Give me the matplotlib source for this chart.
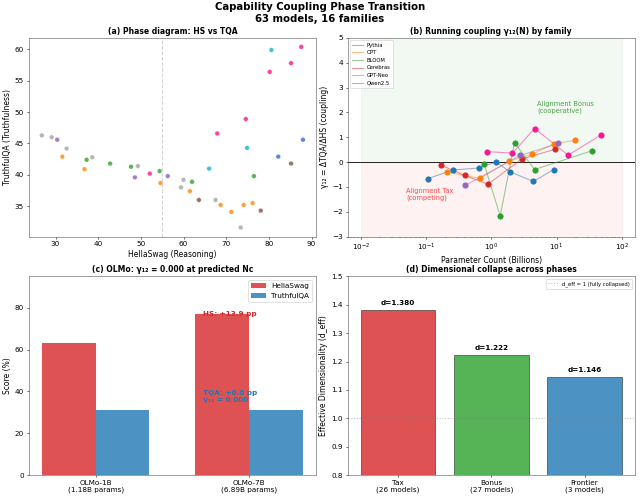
import matplotlib
matplotlib.use("Agg")
import matplotlib.pyplot as plt
import numpy as np

# (a) phase diagram: HellaSwag vs TruthfulQA, colored by family
hs_a = [26.8, 29.1, 30.4, 32.6, 31.6, 36.8, 37.3, 38.6, 42.8, 47.7,
        49.3, 48.6, 52.1, 54.4, 54.6, 56.3, 60.0, 59.4, 62.0, 61.5,
        63.6, 66.0, 67.5, 67.9, 68.7, 71.2, 73.4, 74.1, 74.6, 74.9,
        76.2, 76.5, 78.1, 80.2, 80.6, 82.2, 85.2, 85.2, 87.6, 88.0]
tqa_a = [46.3, 46.0, 45.6, 44.2, 42.9, 40.9, 42.4, 42.8, 41.8, 41.3,
         41.4, 39.6, 40.2, 40.6, 38.7, 39.8, 39.2, 38.0, 38.9, 37.4,
         36.0, 41.0, 36.0, 46.6, 35.2, 34.1, 31.6, 35.2, 48.9, 44.3,
         35.5, 39.8, 34.3, 56.4, 59.9, 42.9, 57.8, 41.8, 60.4, 45.6]
fam_a = ["gray", "gray", "purple", "gray", "orange", "orange", "green", "gray", "green", "green",
         "gray", "purple", "pink", "green", "orange", "purple", "gray", "gray", "green", "orange",
         "brown", "cyan", "gray", "pink", "orange", "orange", "gray", "orange", "pink", "cyan",
         "orange", "green", "brown", "pink", "cyan", "blue", "pink", "brown", "pink", "blue"]
fam_colors = {"gray": "#a8a8a8", "purple": "#9467bd", "orange": "#ff8c1a", "green": "#3aa83a",
              "pink": "#ff1f8f", "cyan": "#17b8d8", "brown": "#8c564b", "blue": "#3f6fdc"}
nc_hs = 55

# (b) running coupling per family
families = ["Pythia", "OPT", "BLOOM", "Cerebras", "GPT-Neo", "Qwen2.5"]
fam_line_colors = ["tab:blue", "tab:orange", "tab:green", "tab:red", "tab:purple", "#ff1493"]
params_b = [
    [0.106, 0.258, 0.64, 1.18, 1.97, 4.41, 9.1],
    [0.211, 0.67, 1.88, 4.26, 9.2, 19.5],
    [0.78, 1.37, 2.27, 4.62, 35.3],
    [0.169, 0.393, 0.89, 2.93, 9.33],
    [0.40, 2.8, 10.7],
    [0.87, 2.11, 4.62, 15.1, 47.9],
]
gamma_b = [
    [-0.67, -0.32, -0.24, 0.0, -0.40, -0.78, -0.30],
    [-0.40, -0.66, 0.04, 0.32, 0.74, 0.88],
    [-0.09, -2.17, 0.78, -0.30, 0.46],
    [-0.12, -0.54, -0.89, 0.12, 0.51],
    [-0.94, 0.27, 0.75],
    [0.42, 0.36, 1.35, 0.28, 1.09],
]

# (c) OLMo
olmo_models = ["OLMo-1B\n(1.18B params)", "OLMo-7B\n(6.89B params)"]
olmo_hs = [63.3, 77.2]
olmo_tqa = [31.0, 31.0]

# (d) dimensional collapse
phases = ["Tax\n(26 models)", "Bonus\n(27 models)", "Frontier\n(3 models)"]
d_eff = [1.380, 1.222, 1.146]
phase_colors = ["tab:red", "tab:green", "tab:blue"]

plt.rcParams["font.size"] = 10.5
plt.rcParams["axes.labelsize"] = 11
plt.rcParams["axes.titlesize"] = 11
plt.rcParams["axes.edgecolor"] = "#555555"

fig, axes = plt.subplots(2, 2, figsize=(12.8, 9.96), dpi=50)
fig.suptitle("Capability Coupling Phase Transition\n63 models, 16 families",
             fontsize=14.5, fontweight="bold", y=0.995)

# (a)
ax = axes[0, 0]
ax.scatter(hs_a, tqa_a, c=[fam_colors[f] for f in fam_a], s=45, alpha=0.85,
           edgecolors="white", linewidths=0.5, zorder=3)
ax.axvline(nc_hs, color="lightgray", linestyle="--", linewidth=1.5)
ax.set_xlabel("HellaSwag (Reasoning)")
ax.set_ylabel("TruthfulQA (Truthfulness)")
ax.set_title("(a) Phase diagram: HS vs TQA", fontweight="bold")

# (b)
ax = axes[0, 1]
ax.fill_between([1e-2, 1e2], 0, 5, color="green", alpha=0.05)
ax.fill_between([1e-2, 1e2], -3, 0, color="red", alpha=0.05)
ax.axhline(0, color="black", linewidth=1.2)
for name, col, xs, ys in zip(families, fam_line_colors, params_b, gamma_b):
    ax.plot(xs, ys, "-", color=col, alpha=0.5, linewidth=1.5, label=name)
    ax.scatter(xs, ys, color=col, s=60, zorder=4)
ax.set_xscale("log")
ax.set_ylim(-3, 5)
ax.text(5, 2.2, "Alignment Bonus\n(cooperative)", color="green", alpha=0.7,
        ha="left", va="center", fontsize=9.5)
ax.text(0.05, -1.3, "Alignment Tax\n(competing)", color="red", alpha=0.7,
        ha="left", va="center", fontsize=9.5)
ax.set_xlabel("Parameter Count (Billions)")
ax.set_ylabel("γ₁₂ = ΔTQA/ΔHS (coupling)")
ax.set_title("(b) Running coupling γ₁₂(N) by family", fontweight="bold")
ax.legend(loc="upper left", fontsize=7.5)

# (c)
ax = axes[1, 0]
x = np.arange(len(olmo_models))
w = 0.35
ax.bar(x - w / 2, olmo_hs, w, color="tab:red", alpha=0.8, label="HellaSwag")
ax.bar(x + w / 2, olmo_tqa, w, color="tab:blue", alpha=0.8, label="TruthfulQA")
ax.text(0.7, olmo_hs[1], f"HS: +{olmo_hs[1] - olmo_hs[0]:.1f} pp", color="tab:red",
        fontweight="bold", va="center")
ax.text(0.7, 37.7, f"TQA: +{olmo_tqa[1] - olmo_tqa[0]:.1f} pp\nγ₁₂ = 0.000", color="tab:blue",
        fontweight="bold", va="center")
ax.set_xticks(x)
ax.set_xticklabels(olmo_models)
ax.set_ylim(0, 95)
ax.set_ylabel("Score (%)")
ax.set_title("(c) OLMo: γ₁₂ = 0.000 at predicted Nc", fontweight="bold")
ax.legend(loc="upper right")

# (d)
ax = axes[1, 1]
ax.bar(range(len(phases)), d_eff, color=phase_colors, alpha=0.8, edgecolor="black", linewidth=0.8)
for i, d in enumerate(d_eff):
    ax.text(i, d + 0.015, f"d={d:.3f}", ha="center", va="bottom", fontweight="bold")
ax.axhline(1.0, color="gray", linestyle=":", alpha=0.5, label="d_eff = 1 (fully collapsed)")
ax.set_xticks(range(len(phases)))
ax.set_xticklabels(phases)
ax.set_ylim(0.8, 1.5)
ax.set_ylabel("Effective Dimensionality (d_eff)")
ax.set_title("(d) Dimensional collapse across phases", fontweight="bold")
ax.legend(loc="upper right", fontsize=7.5)

plt.subplots_adjust(left=0.045, right=0.992, top=0.924, bottom=0.046, wspace=0.11, hspace=0.2)
plt.savefig("out.png", dpi=50)
